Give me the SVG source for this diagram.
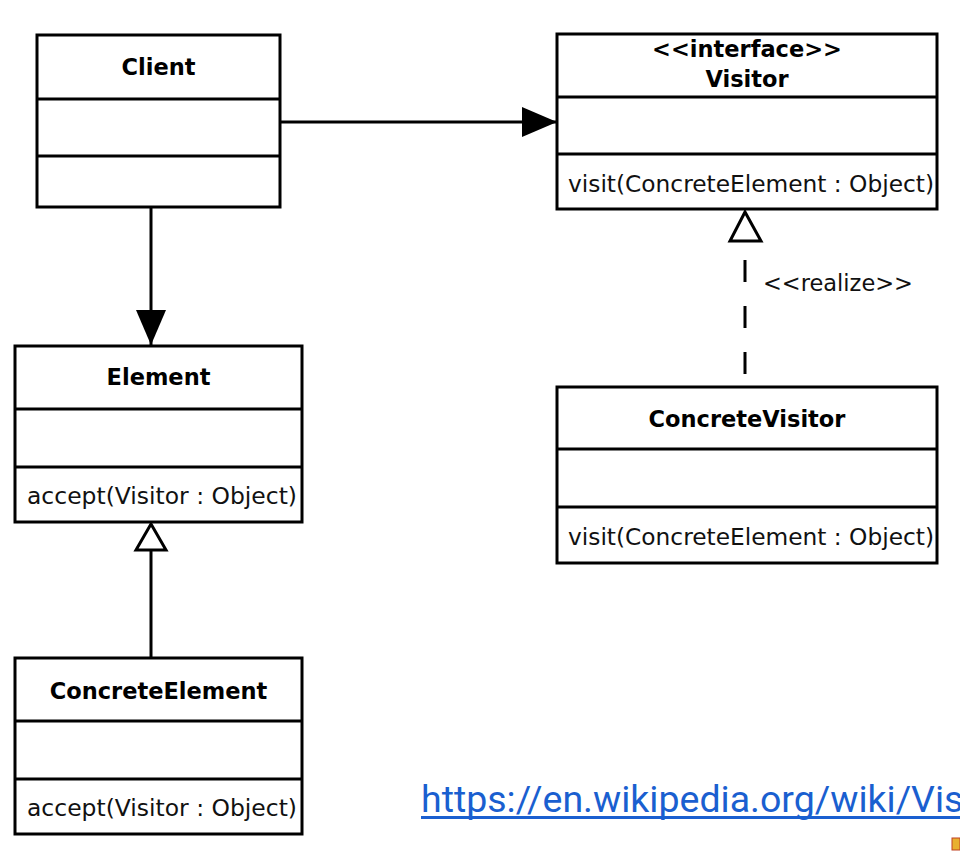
<svg xmlns="http://www.w3.org/2000/svg" width="960" height="854" viewBox="0 0 960 854">
<style>
.box{fill:#fff;stroke:#000;stroke-width:3}
.div{stroke:#000;stroke-width:3}
.title{font-family:"DejaVu Sans",sans-serif;font-weight:bold;font-size:22.5px;text-anchor:middle;fill:#000}
.mem{font-family:"DejaVu Sans",sans-serif;font-size:23.3px;fill:#111}
.lbl{font-family:"DejaVu Sans",sans-serif;font-size:22.5px;fill:#111}
.line{stroke:#000;stroke-width:3;fill:none}
.url{font-family:Roboto,"Liberation Sans",sans-serif;font-size:37.5px;fill:#1a5fd0}
</style>
<defs>
<marker id="filled" markerWidth="36" markerHeight="32" refX="35" refY="16" orient="auto" markerUnits="userSpaceOnUse">
<path d="M0,1 L35,16 L0,31 Z" fill="#000"/>
</marker>
</defs>
<rect width="960" height="854" fill="#fff"/>
<g id="connectors">
<line class="line" x1="281" y1="122" x2="557" y2="122" marker-end="url(#filled)"/>
<line class="line" x1="151" y1="208" x2="151" y2="345" marker-end="url(#filled)"/>
<line class="line" x1="151" y1="550" x2="151" y2="657"/>
<path d="M151,524 L136,550 L166,550 Z" fill="#fff" stroke="#000" stroke-width="3"/>
<line class="line" x1="745" y1="260" x2="745" y2="374" stroke-dasharray="22,24"/>
<path d="M745,212 L730,241 L761,241 Z" fill="#fff" stroke="#000" stroke-width="3"/>
<text class="lbl" x="763" y="291">&lt;&lt;realize&gt;&gt;</text>
</g>
<g id="client">
<rect class="box" x="37" y="35" width="243" height="172"/>
<line class="div" x1="37" y1="99" x2="280" y2="99"/>
<line class="div" x1="37" y1="156" x2="280" y2="156"/>
<text class="title" x="158.5" y="75">Client</text>
</g>
<g id="visitor">
<rect class="box" x="557" y="34" width="380" height="175"/>
<line class="div" x1="557" y1="97" x2="937" y2="97"/>
<line class="div" x1="557" y1="154" x2="937" y2="154"/>
<text class="title" x="747" y="57">&lt;&lt;interface&gt;&gt;</text>
<text class="title" x="747" y="87">Visitor</text>
<text class="mem" x="568" y="192" textLength="366" lengthAdjust="spacingAndGlyphs">visit(ConcreteElement : Object)</text>
</g>
<g id="concretevisitor">
<rect class="box" x="557" y="387" width="380" height="176"/>
<line class="div" x1="557" y1="449" x2="937" y2="449"/>
<line class="div" x1="557" y1="507" x2="937" y2="507"/>
<text class="title" x="747" y="427">ConcreteVisitor</text>
<text class="mem" x="568" y="545" textLength="366" lengthAdjust="spacingAndGlyphs">visit(ConcreteElement : Object)</text>
</g>
<g id="element">
<rect class="box" x="15" y="346" width="287" height="176"/>
<line class="div" x1="15" y1="409" x2="302" y2="409"/>
<line class="div" x1="15" y1="467" x2="302" y2="467"/>
<text class="title" x="158.5" y="385">Element</text>
<text class="mem" x="27" y="504" textLength="270" lengthAdjust="spacingAndGlyphs">accept(Visitor : Object)</text>
</g>
<g id="concreteelement">
<rect class="box" x="15" y="658" width="287" height="176"/>
<line class="div" x1="15" y1="721" x2="302" y2="721"/>
<line class="div" x1="15" y1="779" x2="302" y2="779"/>
<text class="title" x="158.5" y="699">ConcreteElement</text>
<text class="mem" x="27" y="816" textLength="270" lengthAdjust="spacingAndGlyphs">accept(Visitor : Object)</text>
</g>
<g id="link">
<text class="url" x="421" y="812">https://en.wikipedia.org/wiki/Vis</text>
<rect x="421" y="816" width="539" height="3" fill="#1a5fd0"/>
<rect x="952" y="838" width="8" height="12" fill="#e8b030" stroke="#c04020" stroke-width="1"/>
</g>
</svg>
